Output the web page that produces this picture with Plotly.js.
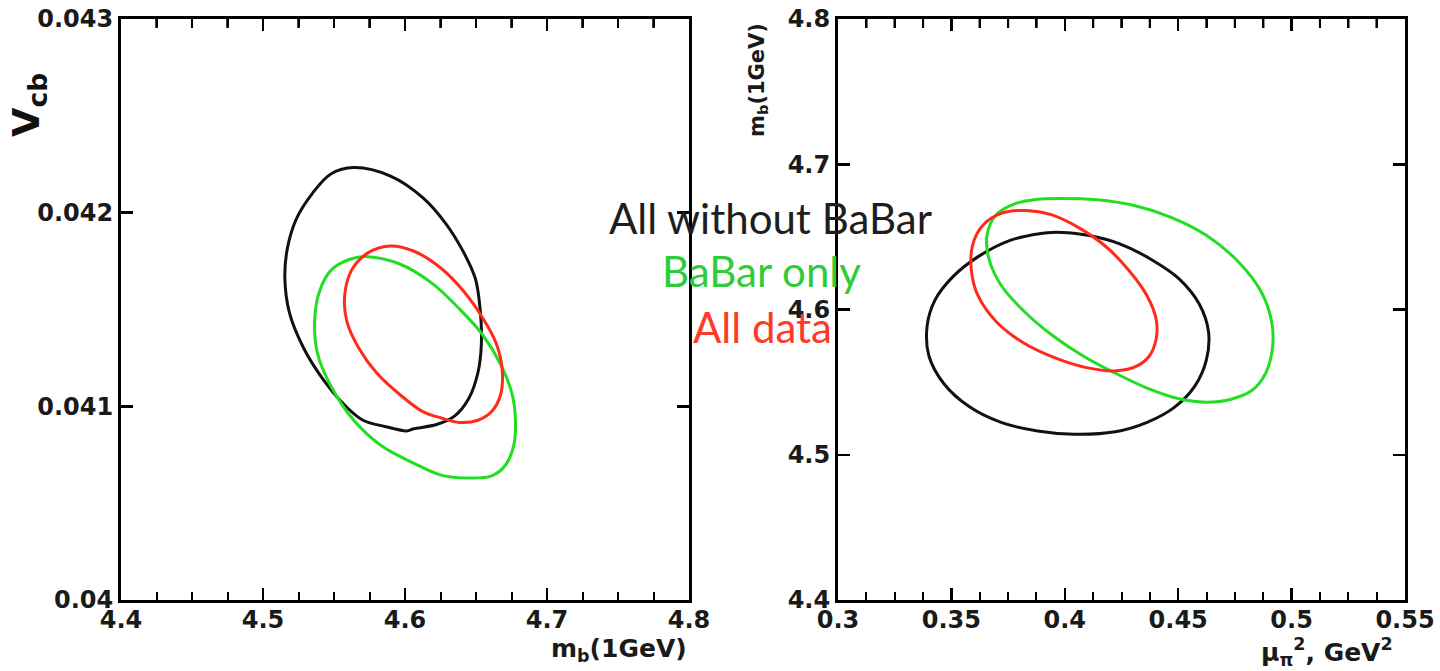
<!DOCTYPE html>
<html>
<head>
<meta charset="utf-8">
<script src="https://cdn.plot.ly/plotly-3.0.1.min.js"></script>
<style>html,body{margin:0;padding:0;background:#fff;}#chart{width:1440px;height:671px;}</style>
</head>
<body>
<div id="chart"></div>
<script>
// ---- Left panel: Vcb vs mb(1GeV) contours ----
const leftBlackX = [4.5639,4.5898,4.6125,4.6286,4.6416,4.6496,4.6529,4.6538,4.6513,4.6448,4.6351,4.6222,4.6060,4.6011,4.5866,4.5704,4.5575,4.5413,4.5284,4.5187,4.5154,4.5171,4.5235,4.5348,4.5478,4.5639];
const leftBlackY = [0.042233,0.042189,0.042078,0.041945,0.041791,0.041658,0.041503,0.041326,0.041172,0.041039,0.040951,0.040906,0.040884,0.040873,0.040895,0.040928,0.041006,0.041150,0.041304,0.041481,0.041658,0.041813,0.041968,0.042100,0.042200,0.042233];

const leftGreenX = [4.5736,4.5963,4.6189,4.6383,4.6545,4.6674,4.6755,4.6778,4.6765,4.6707,4.6610,4.6448,4.6254,4.6060,4.5834,4.5639,4.5478,4.5381,4.5365,4.5397,4.5478,4.5607,4.5736];
const leftGreenY = [0.041773,0.041735,0.041636,0.041503,0.041371,0.041216,0.041061,0.040928,0.040796,0.040696,0.040641,0.040630,0.040645,0.040707,0.040796,0.040928,0.041105,0.041282,0.041459,0.041592,0.041702,0.041758,0.041773];

const leftRedX = [4.5892,4.6060,4.6254,4.6416,4.6545,4.6642,4.6684,4.6674,4.6610,4.6513,4.6383,4.6254,4.6125,4.5963,4.5801,4.5672,4.5591,4.5575,4.5623,4.5736,4.5892];
const leftRedY = [0.041828,0.041802,0.041713,0.041592,0.041459,0.041326,0.041194,0.041061,0.040973,0.040928,0.040917,0.040940,0.040973,0.041061,0.041172,0.041304,0.041437,0.041570,0.041702,0.041791,0.041828];

// ---- Right panel: mb(1GeV) vs mu_pi^2 contours ----
const rightBlackX = [0.3960,0.4101,0.4242,0.4383,0.4504,0.4594,0.4634,0.4624,0.4574,0.4483,0.4363,0.4222,0.4041,0.3880,0.3719,0.3578,0.3467,0.3401,0.3393,0.3427,0.3507,0.3618,0.3759,0.3880,0.3960];
const rightBlackY = [4.6532,4.6511,4.6452,4.6343,4.6211,4.6034,4.5842,4.5651,4.5474,4.5326,4.5223,4.5158,4.5141,4.5164,4.5223,4.5332,4.5489,4.5680,4.5887,4.6063,4.6226,4.6364,4.6476,4.6520,4.6532];

const rightGreenX = [0.3980,0.4141,0.4302,0.4463,0.4624,0.4765,0.4866,0.4912,0.4916,0.4886,0.4826,0.4725,0.4624,0.4504,0.4363,0.4222,0.4081,0.3940,0.3819,0.3719,0.3664,0.3658,0.3698,0.3779,0.3880,0.3980];
const rightGreenY = [4.6765,4.6756,4.6718,4.6638,4.6511,4.6329,4.6122,4.5916,4.5739,4.5562,4.5444,4.5379,4.5362,4.5385,4.5459,4.5562,4.5680,4.5828,4.5990,4.6167,4.6358,4.6520,4.6653,4.6727,4.6759,4.6765];

const rightRedX = [0.3829,0.3940,0.4061,0.4182,0.4282,0.4363,0.4403,0.4403,0.4373,0.4312,0.4222,0.4101,0.3960,0.3819,0.3698,0.3618,0.3588,0.3594,0.3638,0.3719,0.3829];
const rightRedY = [4.6682,4.6653,4.6564,4.6432,4.6270,4.6093,4.5931,4.5798,4.5680,4.5606,4.5577,4.5598,4.5665,4.5769,4.5916,4.6093,4.6270,4.6447,4.6579,4.6662,4.6682];

// ---- Tick labels and tick positions ----
const leftXTicks = [4.4,4.5,4.6,4.7,4.8];
const leftXTickText = ["4.4","4.5","4.6","4.7","4.8"];
const leftXMinorTicks = [4.425,4.45,4.475,4.525,4.55,4.575,4.625,4.65,4.675,4.725,4.75,4.775];
const leftYTicks = [0.040,0.041,0.042,0.043];
const leftYTickText = ["0.04","0.041","0.042","0.043"];
const rightXTicks = [0.3,0.35,0.4,0.45,0.5,0.55];
const rightXTickText = ["0.3","0.35","0.4","0.45","0.5","0.55"];
const rightXMinorTicks = [0.3125,0.325,0.3375,0.3625,0.375,0.3875,0.4125,0.425,0.4375,0.4625,0.475,0.4875,0.5125,0.525,0.5375];
const rightYTicks = [4.4,4.5,4.6,4.7,4.8];
const rightYTickText = ["4.4","4.5","4.6","4.7","4.8"];

// ---- Legend labels ----
const seriesNames = ["All without BaBar","BaBar only","All data"];
const seriesColors = ["#111111","#22dd22","#ff2a1a"];
const textColors = ["#1e1e1e","#2fcc3a","#ff3a28"];

const W = 1440, H = 671;
const px = v => v / W;
const py = v => 1 - v / H;
const plotH = 581;               // plot-area height in px
const minorFrac = 9 / plotH;     // top minor tick length as a fraction of the y span
const leftYRange = [leftYTicks[0], leftYTicks[leftYTicks.length - 1]];
const rightYRange = [rightYTicks[0], rightYTicks[rightYTicks.length - 1]];

function curve(x, y, color, xa, ya) {
  return {x: x, y: y, xaxis: xa, yaxis: ya, type: 'scatter', mode: 'lines',
    line: {color: color, width: 3, shape: 'spline', smoothing: 1},
    hoverinfo: 'skip', showlegend: false};
}
// mirrored minor ticks along the top frame, as short segments hanging from the top edge
function topTicks(vals, yr, xa, ya) {
  const top = yr[1], bottom = yr[1] - (yr[1] - yr[0]) * minorFrac;
  const xs = [], ys = [];
  vals.forEach(v => { xs.push(v, v, null); ys.push(top, bottom, null); });
  return {x: xs, y: ys, xaxis: xa, yaxis: ya, type: 'scatter', mode: 'lines',
    line: {color: '#000', width: 2}, connectgaps: false, cliponaxis: false,
    hoverinfo: 'skip', showlegend: false};
}

const data = [
  curve(leftBlackX, leftBlackY, seriesColors[0], 'x', 'y'),
  curve(leftGreenX, leftGreenY, seriesColors[1], 'x', 'y'),
  curve(leftRedX, leftRedY, seriesColors[2], 'x', 'y'),
  curve(rightBlackX, rightBlackY, seriesColors[0], 'x2', 'y2'),
  curve(rightGreenX, rightGreenY, seriesColors[1], 'x2', 'y2'),
  curve(rightRedX, rightRedY, seriesColors[2], 'x2', 'y2'),
  topTicks(leftXMinorTicks, leftYRange, 'x', 'y'),
  topTicks(rightXMinorTicks, rightYRange, 'x2', 'y2')
];

function topTickShapes(vals, xref, yref) {
  return vals.map(v => ({type: 'line', xref: xref, yref: yref + ' domain',
    x0: v, x1: v, y0: 1, y1: 1 - minorFrac, line: {color: '#000', width: 2}, layer: 'above'}));
}

const tickFont = {family: 'DejaVu Sans', size: 24, color: '#1a1a1a', weight: 'bold'};
const axisBase = {
  showgrid: false, zeroline: false, showline: true, linecolor: '#000', linewidth: 3,
  mirror: 'ticks', ticks: 'inside', ticklen: 12, tickwidth: 2.5, tickcolor: '#000',
  tickfont: tickFont, tickmode: 'array', fixedrange: true
};
const leftMinor = {dtick: 0.025, tick0: 4.4, ticks: 'inside', ticklen: 8, tickwidth: 2, tickcolor: '#000'};
const rightMinor = {dtick: 0.0125, tick0: 0.3, ticks: 'inside', ticklen: 8, tickwidth: 2, tickcolor: '#000'};

const layout = {
  width: W, height: H,
  margin: {l: 0, r: 0, t: 0, b: 0},
  paper_bgcolor: '#fff', plot_bgcolor: '#fff',
  showlegend: false,
  xaxis: Object.assign({}, axisBase, {
    domain: [px(121), px(689)], range: [4.4, 4.8], anchor: 'y',
    tickvals: leftXTicks, ticktext: leftXTickText, ticklabelstandoff: -4,
    minor: leftMinor
  }),
  yaxis: Object.assign({}, axisBase, {
    domain: [py(600), py(19)], range: leftYRange, anchor: 'x',
    tickvals: leftYTicks, ticktext: leftYTickText
  }),
  xaxis2: Object.assign({}, axisBase, {
    domain: [px(838), px(1405)], range: [0.3, 0.55], anchor: 'y2',
    tickvals: rightXTicks, ticktext: rightXTickText, ticklabelstandoff: -4,
    minor: rightMinor
  }),
  yaxis2: Object.assign({}, axisBase, {
    domain: [py(600), py(19)], range: rightYRange, anchor: 'x2',
    tickvals: rightYTicks, ticktext: rightYTickText
  }),
  shapes: topTickShapes(leftXMinorTicks, 'x', 'y').concat(topTickShapes(rightXMinorTicks, 'x2', 'y2')),
  annotations: [
    {text: 'V<sub>cb</sub>', xref: 'paper', yref: 'paper', x: px(28), y: py(105), textangle: -90,
     xanchor: 'center', yanchor: 'middle', showarrow: false,
     font: {family: 'DejaVu Sans', size: 38, color: '#111', weight: 'bold'}},
    {text: 'm<sub>b</sub>(1GeV)', xref: 'paper', yref: 'paper', x: px(689), y: py(650),
     xanchor: 'right', yanchor: 'middle', showarrow: false,
     font: {family: 'DejaVu Sans', size: 25, color: '#1a1a1a', weight: 'bold'}},
    {text: 'm<sub>b</sub>(1GeV)', xref: 'paper', yref: 'paper', x: px(758), y: py(80), textangle: -90,
     xanchor: 'center', yanchor: 'middle', showarrow: false,
     font: {family: 'DejaVu Sans', size: 21, color: '#1a1a1a', weight: 'bold'}},
    {text: 'μ<sub>π</sub><sup>2</sup>, GeV<sup>2</sup>', xref: 'paper', yref: 'paper', x: px(1395), y: py(652),
     xanchor: 'right', yanchor: 'middle', showarrow: false,
     font: {family: 'DejaVu Sans', size: 25, color: '#1a1a1a', weight: 'bold'}},
    {text: seriesNames[0], xref: 'paper', yref: 'paper', x: px(770), y: py(218),
     xanchor: 'center', yanchor: 'middle', showarrow: false,
     font: {family: 'Lato', size: 42, color: textColors[0]}},
    {text: seriesNames[1], xref: 'paper', yref: 'paper', x: px(761), y: py(271),
     xanchor: 'center', yanchor: 'middle', showarrow: false,
     font: {family: 'Lato', size: 42, color: textColors[1]}},
    {text: seriesNames[2], xref: 'paper', yref: 'paper', x: px(762), y: py(327),
     xanchor: 'center', yanchor: 'middle', showarrow: false,
     font: {family: 'Lato', size: 42, color: textColors[2]}}
  ]
};

Plotly.newPlot('chart', data, layout, {staticPlot: true, displayModeBar: false});
</script>
</body>
</html>
